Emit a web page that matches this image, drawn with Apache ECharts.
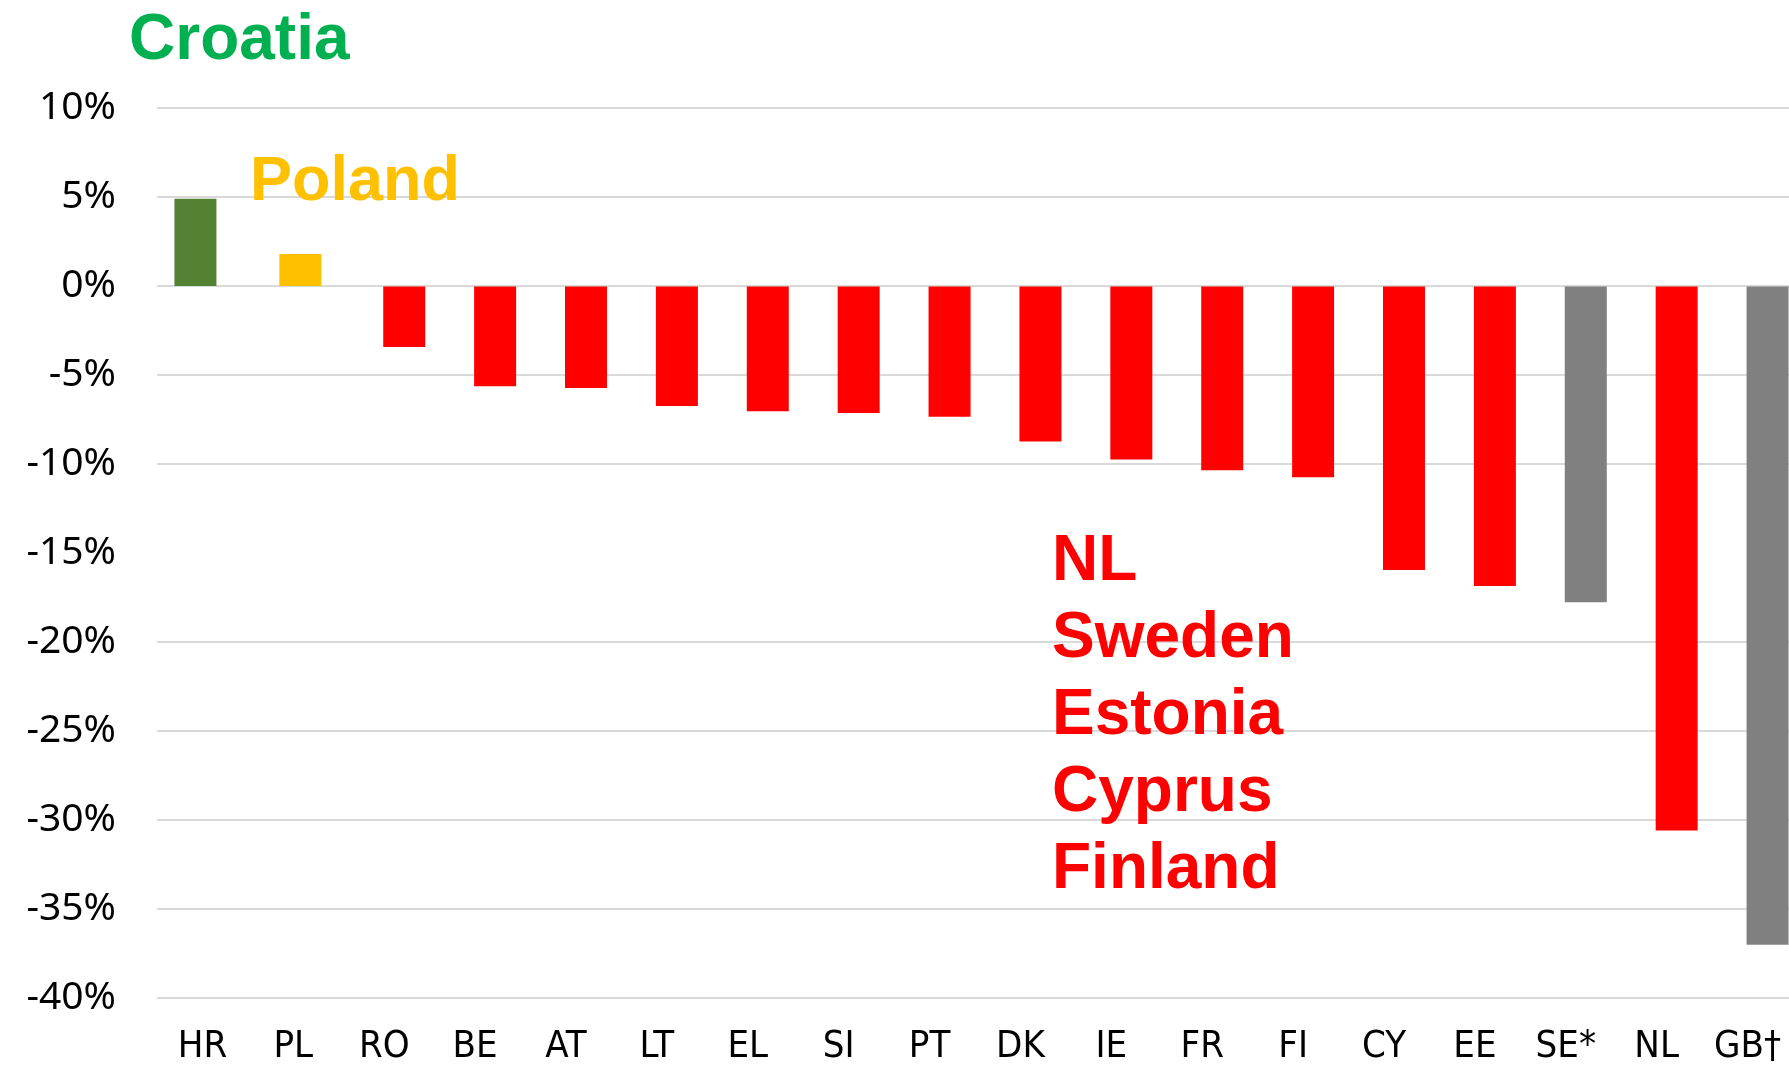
<!DOCTYPE html>
<html>
<head>
<meta charset="utf-8">
<script src="https://cdn.jsdelivr.net/npm/echarts@6/dist/echarts.min.js"></script>
<style>
  html, body { margin: 0; padding: 0; background: #fff; overflow: hidden; }
  /* 画布比窗口宽一点, 最右边的柱子被窗口裁掉 */
  #chart { width: 1840px; height: 1066px; }
</style>
</head>
<body>
<div id="chart"></div>
<script>
// 国家代码
const countries = ['HR', 'PL', 'RO', 'BE', 'AT', 'LT', 'EL', 'SI', 'PT', 'DK', 'IE', 'FR', 'FI', 'CY', 'EE', 'SE*', 'NL', 'GB†'];
// 变化百分比
const changes = [4.9, 1.8, -3.4, -5.6, -5.7, -6.7, -7.0, -7.1, -7.3, -8.7, -9.7, -10.3, -10.7, -15.9, -16.8, -17.7, -30.5, -36.9];
// 柱子颜色
const barColors = ['#548235', '#FFC000', '#FF0000', '#FF0000', '#FF0000', '#FF0000', '#FF0000', '#FF0000', '#FF0000',
  '#FF0000', '#FF0000', '#FF0000', '#FF0000', '#FF0000', '#FF0000', '#808080', '#FF0000', '#808080'];
// Y轴刻度
const yMin = -40, yMax = 10, yStep = 5;
// 原图里 -15% 没有网格线
const gridTicks = [10, 5, 0, -5, -10, -20, -25, -30, -35, -40];
const highlightTop = ['Croatia'];
const highlightMid = ['Poland'];
const highlightLow = ['NL', 'Sweden', 'Estonia', 'Cyprus', 'Finland'];

const chart = echarts.init(document.getElementById('chart'));

// 前两个柱子位置和其他不一样, 分开画
const hrData = changes.map((v, i) => (i === 0 ? v : null));
const plData = changes.map((v, i) => (i === 1 ? v : null));
const restData = changes.map((v, i) => (i < 2 ? null : v));

const itemColor = p => barColors[p.dataIndex];

const option = {
  backgroundColor: '#fff',
  animation: false,
  grid: [
    { left: 157, top: 108, width: 1636, bottom: 66 },
    { left: 177, top: 108, width: 1636, bottom: 66 }
  ],
  xAxis: [
    {
      type: 'category',
      gridIndex: 0,
      data: countries,
      axisLine: { show: false },
      axisTick: { show: false },
      axisLabel: {
        margin: 30,
        interval: 0,
        color: '#000',
        fontFamily: 'DejaVu Sans Condensed',
        fontSize: 38
      }
    },
    {
      type: 'category',
      gridIndex: 1,
      data: countries,
      show: false
    }
  ],
  yAxis: [
    {
      type: 'value',
      gridIndex: 0,
      min: yMin,
      max: yMax,
      interval: yStep,
      axisLine: { show: false },
      axisTick: { show: false },
      axisLabel: {
        margin: 41,
        color: '#000',
        fontFamily: 'Noto Sans',
        fontSize: 39,
        formatter: '{value}%'
      },
      splitLine: { show: false }
    },
    {
      type: 'value',
      gridIndex: 1,
      min: yMin,
      max: yMax,
      interval: yStep,
      show: false,
      splitLine: { show: false }
    }
  ],
  series: [
    {
      type: 'bar',
      xAxisIndex: 0,
      yAxisIndex: 0,
      barWidth: 42,
      barGap: '-66.67%',
      data: hrData,
      itemStyle: { color: itemColor },
      markLine: {
        silent: true,
        symbol: 'none',
        label: { show: false },
        lineStyle: { color: '#D9D9D9', width: 2, type: 'solid' },
        z: 0,
        data: gridTicks.map(t => ({ yAxis: t }))
      }
    },
    {
      type: 'bar',
      xAxisIndex: 0,
      yAxisIndex: 0,
      barWidth: 42,
      barGap: '-66.67%',
      data: plData,
      itemStyle: { color: itemColor }
    },
    {
      type: 'bar',
      xAxisIndex: 1,
      yAxisIndex: 1,
      barWidth: 42,
      data: restData,
      itemStyle: { color: itemColor }
    }
  ],
  graphic: [
    {
      type: 'text',
      z: 100,
      x: 129,
      y: 41,
      style: {
        text: highlightTop.join('\n'),
        fill: '#00B050',
        font: 'bold 64px "Liberation Sans", Arial, sans-serif',
        verticalAlign: 'middle'
      }
    },
    {
      type: 'text',
      z: 100,
      x: 250,
      y: 183,
      style: {
        text: highlightMid.join('\n'),
        fill: '#FFC000',
        font: 'bold 63px "Liberation Sans", Arial, sans-serif',
        verticalAlign: 'middle'
      }
    },
    {
      type: 'text',
      z: 100,
      x: 1052,
      y: 524,
      style: {
        text: highlightLow.join('\n'),
        fill: '#FF0000',
        font: 'bold 64px "Liberation Sans", Arial, sans-serif',
        lineHeight: 77,
        verticalAlign: 'top'
      }
    }
  ]
};

chart.setOption(option);
</script>
</body>
</html>
